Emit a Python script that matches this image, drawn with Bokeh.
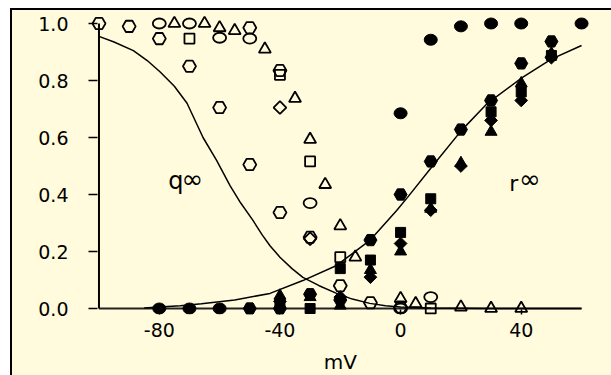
from bokeh.plotting import figure
from bokeh.layouts import column
from bokeh.models import Range1d, FixedTicker, NumeralTickFormatter
from bokeh.core.properties import value
from bokeh.embed import file_html
from bokeh.resources import INLINE

CREAM = "#FFFBDC"
FONT = "DejaVu Sans"

# ---------------- data ----------------
# open symbols: q_inf (inactivation)
oh_x = [-100, -90, -80, -70, -60, -50, -40, -30, -20, -10, 0]
oh_y = [1.0, 0.99, 0.947, 0.85, 0.705, 0.505, 0.337, 0.25, 0.08, 0.02, 0.005]
oh2_x = [-50, -40]
oh2_y = [0.985, 0.835]
oc_x = [-80, -70, -60, -50, -30, 0, 10]
oc_y = [1.0, 1.0, 0.95, 0.947, 0.37, 0.0, 0.04]
os_x = [-70, -40, -30, -20, 10]
os_y = [0.947, 0.82, 0.516, 0.18, 0.0]
ot_x = [-75, -65, -60, -55, -45, -35, -30, -25, -20, -15, 0, 5, 20, 30, 40]
ot_y = [1.0, 1.0, 0.985, 0.975, 0.91, 0.737, 0.593, 0.435, 0.29, 0.18, 0.035, 0.017, 0.005, 0.0, 0.0]
od_x = [-40, -30]
od_y = [0.705, 0.245]

# filled symbols: r_inf (activation)
fc_x = [-80, -70, -60, 0, 10, 20, 30, 40, 60]
fc_y = [0.0, 0.0, 0.0, 0.685, 0.943, 0.99, 1.0, 1.0, 1.0]
fh_x = [-50, -40, -30, -20, -10, 0, 10, 20, 30, 40, 50]
fh_y = [0.0, 0.0, 0.05, 0.03, 0.24, 0.40, 0.516, 0.628, 0.73, 0.86, 0.937]
fs_x = [-40, -30, -20, -10, 0, 10, 30, 40, 50]
fs_y = [0.02, 0.0, 0.14, 0.17, 0.267, 0.385, 0.69, 0.76, 0.888]
ft_x = [-40, -30, -20, -10, 0, 10, 20, 30, 40, 50]
ft_y = [0.045, 0.04, 0.01, 0.135, 0.2, 0.35, 0.51, 0.62, 0.79, 0.895]
fd_x = [-40, -20, -10, 0, 10, 20, 30, 40, 50]
fd_y = [0.025, 0.04, 0.11, 0.228, 0.345, 0.5, 0.66, 0.73, 0.88]

# fitted curves
q_x = [-100, -95, -88.6, -84, -79.7, -75, -70.8, -65.5, -61, -56.5, -53, -49, -46, -43.3,
       -40, -36, -32.4, -27, -21.2, -16, -10.2, -5, 0, 10, 30, 60]
q_y = [0.955, 0.935, 0.905, 0.87, 0.83, 0.78, 0.72, 0.60, 0.52, 0.43, 0.37, 0.31, 0.26, 0.22,
       0.18, 0.14, 0.109, 0.08, 0.053, 0.033, 0.018, 0.01, 0.005, 0.002, 0.0, 0.0]
r_x = [-85, -80, -73, -66, -55, -43.3, -32.4, -21.2, -10.2, -1.3, 2.3, 10.6, 20.2, 28.8,
       40.3, 50, 60]
r_y = [0.002, 0.005, 0.01, 0.017, 0.03, 0.053, 0.098, 0.151, 0.239, 0.344, 0.39, 0.50,
       0.625, 0.72, 0.81, 0.875, 0.923]

x_ticks = [-80, -40, 0, 40]
x_tick_labels = ["-80", "-40", "0", "40"]
y_ticks = [0.0, 0.2, 0.4, 0.6, 0.8, 1.0]
x_axis_span = [-100, 60]
y_axis_span = [0.0, 1.0]
x_title = "mV"

# ---------------- main figure ----------------
xr = Range1d(-102.81, 65.95)
p = figure(width=599, height=340,
           x_range=xr, y_range=Range1d(-0.02105, 1.0281),
           output_backend="svg", toolbar_location=None,
           min_border_left=78, min_border_right=12, min_border_top=5, min_border_bottom=36,
           background_fill_color=CREAM, border_fill_color=CREAM, outline_line_color=None)
p.grid.visible = False

xa = p.xaxis[0]
xa.ticker = FixedTicker(ticks=x_ticks)
xa.major_label_overrides = {t: s for t, s in zip(x_ticks, x_tick_labels)}
xa.axis_line_color = None
xa.major_tick_out = 0
xa.major_tick_in = 5
xa.minor_tick_line_color = None
xa.major_tick_line_width = 1.5
xa.major_label_standoff = 8
xa.major_label_text_font = FONT
xa.major_label_text_font_size = "19px"
xa.major_label_text_color = "black"

ya = p.yaxis[0]
ya.ticker = FixedTicker(ticks=y_ticks)
ya.formatter = NumeralTickFormatter(format="0.0")
ya.axis_line_color = None
ya.major_tick_out = 2
ya.major_tick_in = 7
ya.minor_tick_line_color = None
ya.major_tick_line_width = 1.5
ya.major_label_standoff = 20
ya.major_label_text_font = FONT
ya.major_label_text_font_size = "19px"
ya.major_label_text_color = "black"

# axis lines drawn through the data scales
p.line(x_axis_span, [0, 0], line_color="#222222", line_width=2)
p.line([-100, -100], y_axis_span, line_color="black", line_width=2)

# curves
p.line(q_x, q_y, line_color="black", line_width=1.5)
p.line(r_x, r_y, line_color="black", line_width=1.5)

LW = 1.8
# open markers
p.scatter(oh_x, oh_y, marker="hex", size=13, fill_color=None, line_color="black", line_width=LW)
p.scatter(oh2_x, oh2_y, marker="hex", size=13, fill_color=None, line_color="black", line_width=LW)
p.ellipse(oc_x, oc_y, width=13, height=10, width_units="screen", height_units="screen",
          fill_color=None, line_color="black", line_width=LW)
p.scatter(os_x, os_y, marker="square", size=10, fill_color=None, line_color="black", line_width=LW)
p.scatter(ot_x, ot_y, marker="triangle", size=12, fill_color=None, line_color="black", line_width=LW)
p.scatter(od_x, od_y, marker="square", size=9, angle=0.785, fill_color=None, line_color="black",
          line_width=LW)

# filled markers
p.ellipse(fc_x, fc_y, width=13, height=11, width_units="screen", height_units="screen",
          fill_color="black", line_color="black")
p.scatter(fh_x, fh_y, marker="hex", size=13, fill_color="black", line_color="black")
p.scatter(fs_x, fs_y, marker="square", size=10, fill_color="black", line_color="black")
p.scatter(ft_x, ft_y, marker="triangle", size=12, fill_color="black", line_color="black")
p.scatter(fd_x, fd_y, marker="square", size=9, angle=0.785, fill_color="black", line_color="black")

# curve labels
p.text(x=[-77.0], y=[0.449], text=["q"], text_font=value(FONT), text_font_size="24px",
       text_baseline="alphabetic", text_align="left", text_color="black")
p.text(x=[-72.6], y=[0.456], text=["∞"], text_font=value(FONT), text_font_size="26px",
       text_baseline="middle", text_align="left", text_color="black")
p.text(x=[36.0], y=[0.439], text=["r"], text_font=value(FONT), text_font_size="22px",
       text_baseline="alphabetic", text_align="left", text_color="black")
p.text(x=[39.3], y=[0.456], text=["∞"], text_font=value(FONT), text_font_size="26px",
       text_baseline="middle", text_align="left", text_color="black")

# ---------------- strip below for the x-axis title ----------------
p2 = figure(width=599, height=25, x_range=xr, y_range=Range1d(0, 1),
            output_backend="svg", toolbar_location=None,
            x_axis_type=None, y_axis_type=None,
            min_border_left=78, min_border_right=12, min_border_top=0, min_border_bottom=0,
            background_fill_color=CREAM, border_fill_color=CREAM, outline_line_color=None)
p2.grid.visible = False
p2.text(x=[-20], y=[0.54], text=[x_title], text_font=value(FONT), text_font_size="20px",
        text_baseline="middle", text_align="center", text_color="black")

layout = column(p, p2, spacing=0,
                styles={"margin-left": "10px", "margin-top": "8px",
                        "border-left": "2px solid black", "border-top": "2px solid black",
                        "background-color": CREAM})

open("out.html", "w").write(file_html(layout, INLINE))
